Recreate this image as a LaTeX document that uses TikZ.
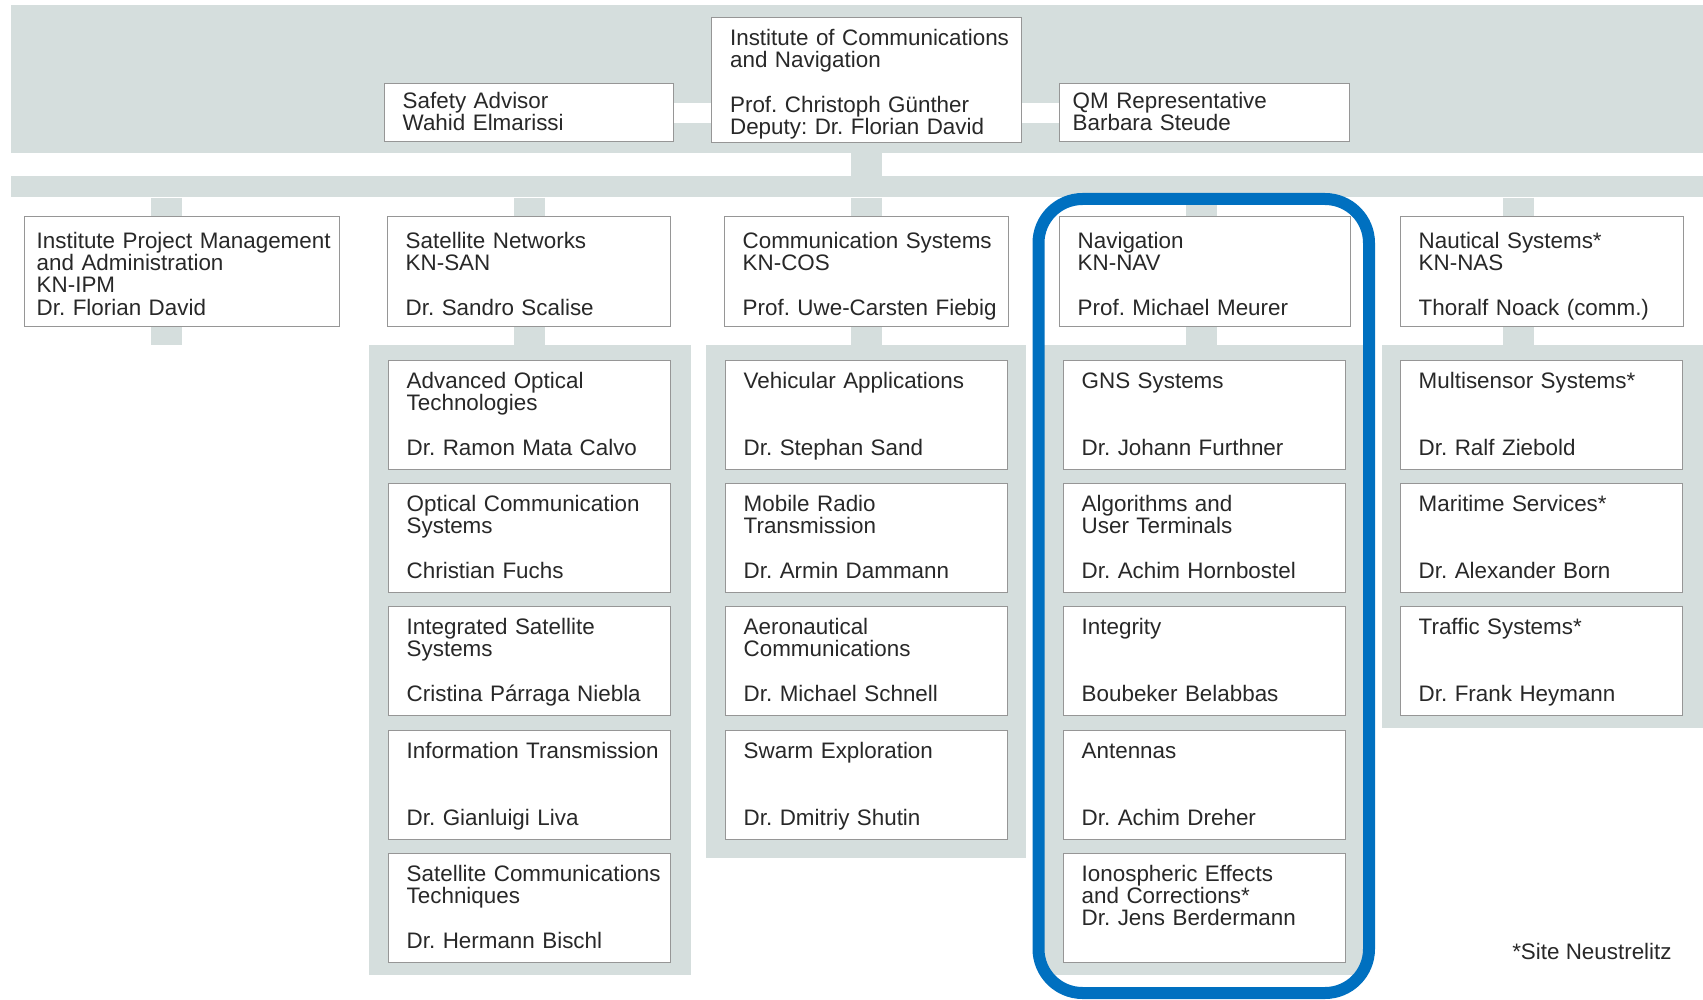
\documentclass[tikz,border=0pt]{standalone}
\usepackage{fontspec}
\setmainfont{Liberation Sans}
\usetikzlibrary{positioning}
\frenchspacing

\definecolor{bandgray}{RGB}{213,222,221}
\definecolor{boxline}{RGB}{150,150,150}
\definecolor{ink}{RGB}{40,40,40}
\definecolor{dlrblue}{RGB}{0,112,192}

\tikzset{
  band/.style={rectangle,fill=bandgray,draw=none,anchor=north west,inner sep=0pt},
  stub/.style={draw=bandgray,line width=15.5pt},
  link/.style={draw=white,line width=10pt},
  inset/.style={execute at begin node={\leftskip=#1}},
  unit/.style={rectangle,draw=boxline,fill=white,line width=0.7pt,anchor=north west,
    inner sep=0pt,text width=141pt,text height=13.9pt,text depth=40.6pt,
    font=\fontsize{11.2}{11.1}\selectfont,text=ink,inset=9pt},
  head/.style={unit,text width=141.5pt,text height=15.9pt,text depth=39.1pt},
  navring/.style={draw=dlrblue,line width=6pt,rounded corners=22pt}
}

\begin{document}
\begin{tikzpicture}[x=0.5pt,y=-0.5pt]
\useasboundingbox (0,0) rectangle (1703,1000);

% gray bands and panels
\node[band,minimum width=846pt,minimum height=74pt] (top) at (11,5) {};
\node[band,minimum width=846pt,minimum height=10.5pt] (bar) at (11,176) {};
\node[band,minimum width=161pt,minimum height=315pt] (sanp) at (369,345) {};
\node[band,minimum width=160pt,minimum height=256.5pt] (cosp) at (706,345) {};
\node[band,minimum width=160.5pt,minimum height=315pt] (navp) at (1043,345) {};
\node[band,minimum width=160.5pt,minimum height=191.5pt] (nasp) at (1382,345) {};

% directorate
\node[unit,text width=155pt,text height=13.9pt,text depth=48.6pt,inset=9.2pt] (inst) at (711,17)
  {Institute of Communications\\and Navigation\\~\\Prof. Christoph Günther\\Deputy: Dr. Florian David};
\node[unit,text width=144.5pt,text height=12.4pt,text depth=16.6pt] (safety) at (384,83)
  {Safety Advisor\\Wahid Elmarissi};
\node[unit,text width=145pt,text height=12.4pt,text depth=16.6pt,inset=6.5pt] (qm) at (1059,83)
  {QM Representative\\Barbara Steude};

% departments
\node[head,text width=157.5pt,inset=6pt] (ipm) at (24,216)
  {Institute Project Management\\and Administration\\KN-IPM\\Dr. Florian David};
\node[head] (san) at (387,216) {Satellite Networks\\KN-SAN\\~\\Dr. Sandro Scalise};
\node[head,text width=142pt] (cos) at (724,216) {Communication Systems\\KN-COS\\~\\Prof. Uwe-Carsten Fiebig};
\node[head,text width=145.5pt] (nav) at (1059,216) {Navigation\\KN-NAV\\~\\Prof. Michael Meurer};
\node[head] (nas) at (1400,216) {Nautical Systems*\\KN-NAS\\~\\Thoralf Noack (comm.)};

% links
\draw[link] (safety.east) -- (safety.east -| inst.west);
\draw[link] (qm.west) -- (qm.west -| inst.east);
\draw[stub] (inst.south) -- (inst.south |- bar.north);
\draw[stub] ([xshift=-7.75pt]ipm.north |- bar.south) -- ([xshift=-7.75pt]ipm.north);
\draw[stub] ([xshift=-7.75pt]ipm.south) -- ([xshift=-7.75pt]ipm.south |- sanp.north);
\draw[stub] (san.north |- bar.south) -- (san.north);
\draw[stub] (san.south) -- (san.south |- sanp.north);
\draw[stub] (cos.north |- bar.south) -- (cos.north);
\draw[stub] (cos.south) -- (cos.south |- cosp.north);
\draw[stub] ([xshift=-1.75pt]nav.north |- bar.south) -- ([xshift=-1.75pt]nav.north);
\draw[stub] ([xshift=-1.75pt]nav.south) -- ([xshift=-1.75pt]nav.south |- navp.north);
\draw[stub] ([xshift=-11.75pt]nas.north |- bar.south) -- ([xshift=-11.75pt]nas.north);
\draw[stub] ([xshift=-11.75pt]nas.south) -- ([xshift=-11.75pt]nas.south |- nasp.north);

% groups of Satellite Networks
\node[unit] (san1) at (388,360) {Advanced Optical\\Technologies\\~\\Dr. Ramon Mata Calvo};
\node[unit] (san2) at (388,483) {Optical Communication\\Systems\\~\\Christian Fuchs};
\node[unit] (san3) at (388,606) {Integrated Satellite\\Systems\\~\\Cristina Párraga Niebla};
\node[unit] (san4) at (388,730) {Information Transmission\\~\\~\\Dr. Gianluigi Liva};
\node[unit] (san5) at (388,853) {Satellite Communications\\Techniques\\~\\Dr. Hermann Bischl};

% groups of Communication Systems
\node[unit] (cos1) at (725,360) {Vehicular Applications\\~\\~\\Dr. Stephan Sand};
\node[unit] (cos2) at (725,483) {Mobile Radio\\Transmission\\~\\Dr. Armin Dammann};
\node[unit] (cos3) at (725,606) {Aeronautical\\Communications\\~\\Dr. Michael Schnell};
\node[unit] (cos4) at (725,730) {Swarm Exploration\\~\\~\\Dr. Dmitriy Shutin};

% groups of Navigation
\node[unit] (nav1) at (1063,360) {GNS Systems\\~\\~\\Dr. Johann Furthner};
\node[unit] (nav2) at (1063,483) {Algorithms and\\User Terminals\\~\\Dr. Achim Hornbostel};
\node[unit] (nav3) at (1063,606) {Integrity\\~\\~\\Boubeker Belabbas};
\node[unit] (nav4) at (1063,730) {Antennas\\~\\~\\Dr. Achim Dreher};
\node[unit] (nav5) at (1063,853) {Ionospheric Effects\\and Corrections*\\Dr. Jens Berdermann};

% groups of Nautical Systems
\node[unit] (nas1) at (1400,360) {Multisensor Systems*\\~\\~\\Dr. Ralf Ziebold};
\node[unit] (nas2) at (1400,483) {Maritime Services*\\~\\~\\Dr. Alexander Born};
\node[unit] (nas3) at (1400,606) {Traffic Systems*\\~\\~\\Dr. Frank Heymann};

% highlight and note
\draw[navring] (1038.5,199) rectangle (1369,993);
\node[anchor=east,inner sep=0pt,font=\fontsize{11.2}{11.1}\selectfont,text=ink] (site) at (1672,951) {*Site Neustrelitz};

\end{tikzpicture}
\end{document}
